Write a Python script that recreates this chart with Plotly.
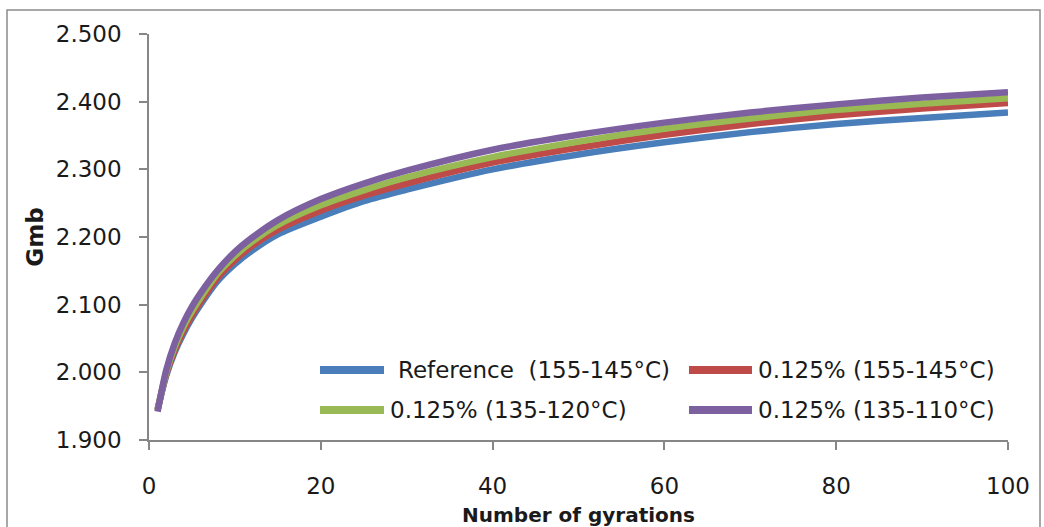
import plotly.graph_objects as go

# ---- data ----
gyrations = [1, 2, 3, 4, 5, 6, 8, 10, 12, 15, 20, 25, 30, 40, 50, 60, 70, 80, 90, 100]

ref_155_145 = [1.945, 1.995, 2.030, 2.057, 2.080, 2.100, 2.135, 2.160, 2.180, 2.204,
               2.230, 2.253, 2.270, 2.300, 2.322, 2.340, 2.355, 2.367, 2.376, 2.384]
p125_155_145 = [1.945, 1.997, 2.033, 2.061, 2.084, 2.104, 2.140, 2.166, 2.187, 2.211,
                2.239, 2.261, 2.279, 2.310, 2.332, 2.351, 2.367, 2.380, 2.390, 2.398]
p125_135_120 = [1.944, 2.000, 2.038, 2.067, 2.090, 2.110, 2.146, 2.172, 2.193, 2.218,
                2.247, 2.269, 2.288, 2.318, 2.341, 2.360, 2.375, 2.388, 2.397, 2.405]
p125_135_110 = [1.942, 2.003, 2.043, 2.073, 2.097, 2.117, 2.151, 2.178, 2.199, 2.225,
                2.256, 2.279, 2.298, 2.329, 2.351, 2.369, 2.384, 2.396, 2.406, 2.414]

series_names = ["Reference  (155-145°C)", "0.125% (155-145°C)",
                "0.125% (135-120°C)", "0.125% (135-110°C)"]
series_values = [ref_155_145, p125_155_145, p125_135_120, p125_135_110]
colors = ["#4a7ebb", "#be4b48", "#98b954", "#7d60a0"]

y_ticks = [1.9, 2.0, 2.1, 2.2, 2.3, 2.4, 2.5]
x_ticks = [0, 20, 40, 60, 80, 100]

# ---- layout geometry (page pixels; body margin removed via post_script) ----
W, H = 1044, 527
PL, PR, PT, PB = 149, 1008, 34, 440          # plot area
L, T, R, B = PL, PT, W - PR, H - PB
pw, ph = PR - PL, PB - PT


def px_x(p):
    return (p - PL) / pw


def px_y(p):
    return (PB - p) / ph


FONT = "DejaVu Sans"
fig = go.Figure()

for name, vals, col in zip(series_names, series_values, colors):
    fig.add_trace(go.Scatter(
        x=gyrations, y=vals, mode="lines", name=name,
        line=dict(color=col, width=6.5, shape="spline", smoothing=0.8),
        showlegend=False,
    ))

# manual legend (2 x 2)
legend_rows = [370, 410]
sym_cols = [(316, 388), (685, 756)]
text_cols = [388, 756]
for i, (name, col) in enumerate(zip(series_names, colors)):
    r, c = divmod(i, 2)
    yy = px_y(legend_rows[r])
    x0, x1 = sym_cols[c]
    fig.add_shape(type="line", xref="paper", yref="paper",
                  x0=px_x(x0 + 4), x1=px_x(x1 - 4), y0=yy, y1=yy,
                  line=dict(color=col, width=8))
    tx = text_cols[c] + (8 if i == 0 else 0)
    fig.add_annotation(xref="paper", yref="paper", x=px_x(tx), y=yy,
                       xanchor="left", yanchor="middle", showarrow=False,
                       text=name, font=dict(family=FONT, size=23, color="#1a1a1a"))

# outer chart frame
fig.add_shape(type="rect", xref="paper", yref="paper",
              x0=px_x(7), x1=px_x(1040), y0=px_y(540), y1=px_y(10),
              line=dict(color="#8c8c8c", width=1.5), layer="below")

axis_common = dict(
    showgrid=False, zeroline=False, showline=True,
    linecolor="#868686", linewidth=1.5,
    ticks="outside", ticklen=8, tickcolor="#868686", tickwidth=1.5,
    tickfont=dict(family=FONT, size=23, color="#1a1a1a"),
)

fig.update_layout(
    width=W, height=H,
    margin=dict(l=L, r=R, t=T, b=B, autoexpand=False),
    paper_bgcolor="white", plot_bgcolor="white",
    xaxis=dict(range=[0, 100], tickvals=x_ticks, ticklabelstandoff=17,
               title=dict(text="<b>Number of gyrations</b>", standoff=10,
                          font=dict(family=FONT, size=20, color="#1a1a1a")),
               **axis_common),
    yaxis=dict(range=[1.9, 2.5], tickvals=y_ticks, tickformat=".3f",
               ticklabelstandoff=13,
               title=dict(text="<b>Gmb</b>", standoff=6,
                          font=dict(family=FONT, size=23, color="#1a1a1a")),
               **axis_common),
    showlegend=False,
)

fig.write_html(
    "out.html",
    config={"displayModeBar": False},
    post_script="document.body.style.margin='0';document.body.style.overflow='hidden';",
)
